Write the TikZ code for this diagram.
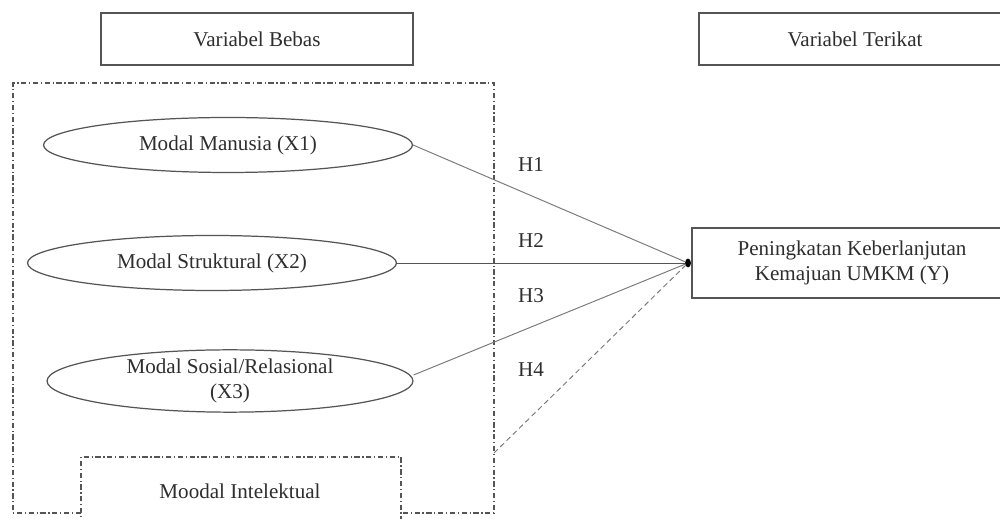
\documentclass[tikz,border=0pt]{standalone}
\usepackage{fontspec}
\setmainfont{Liberation Serif}
\usetikzlibrary{shapes.geometric}
\definecolor{txt}{HTML}{2E2E2E}
\definecolor{edge}{HTML}{555555}
\definecolor{conn}{HTML}{7A7A7A}
\tikzset{
  every node/.style={font=\fontsize{12}{14.2}\selectfont, text=txt},
  labelbox/.style={draw=edge, line width=0.8pt, rectangle, minimum width=6.24cm, minimum height=1.04cm, inner sep=0pt},
  varoval/.style={draw=edge, line width=0.7pt, ellipse, minimum width=7.38cm, minimum height=1.1cm, inner sep=0pt, align=center},
  dashdot/.style={draw=edge, line width=0.6pt, dash pattern=on 3pt off 1.5pt on 0.7pt off 1.5pt},
  conline/.style={draw=conn, line width=0.55pt},
  hlabel/.style={font=\fontsize{12}{14}\selectfont},
}
\begin{document}
\begin{tikzpicture}[x=0.02cm, y=-0.02cm]
\clip (0,0) rectangle (1000,519);
\fill[white] (0,0) rectangle (1000,519);

% header boxes
\node[labelbox] (bebas) at (257,39) {Variabel Bebas};
\node[labelbox] (terikat) at (855,39) {Variabel Terikat};

% dash-dot region
\draw[dashdot] (81,513) -- (13,513) -- (13,83) -- (494,83) -- (494,513) -- (401,513);
\node (intel) at (240,491) {Moodal Intelektual};
\draw[dashdot] (81,525) -- (81,457) -- (401,457) -- (401,525);

% variables
\node[varoval] (x1) at (228,145) {Modal Manusia (X1)};
\node[varoval] (x2) at (212,263) {Modal Struktural (X2)};
\node[varoval, minimum width=7.32cm] (x3) at (230,381) {Modal Sosial/Relasional\\(X3)};

% dependent
\node[draw=edge, line width=0.8pt, rectangle, minimum width=6.4cm, minimum height=1.4cm, inner sep=0pt, align=center] (y) at (852,263) {Peningkatan Keberlanjutan\\Kemajuan UMKM (Y)};
\node[ellipse, fill=black, draw=black, inner sep=0pt, minimum width=0.1cm, minimum height=0.16cm] (dot) at (688,263) {};

% connectors
\coordinate (h4start) at (494,453);
\draw[conline] (x1.east) -- (dot);
\draw[conline, draw=edge] (x2.east) -- (dot);
\draw[conline] ([yshift=0.12cm]x3.east) -- (dot);
\draw[conline, dashed, dash pattern=on 3pt off 2pt] (h4start) -- (dot);

% hypothesis labels
\node[hlabel] (h1) at (531,165) {H1};
\node[hlabel] (h2) at (531,241) {H2};
\node[hlabel] (h3) at (531,296) {H3};
\node[hlabel] (h4) at (531,370) {H4};
\end{tikzpicture}
\end{document}
